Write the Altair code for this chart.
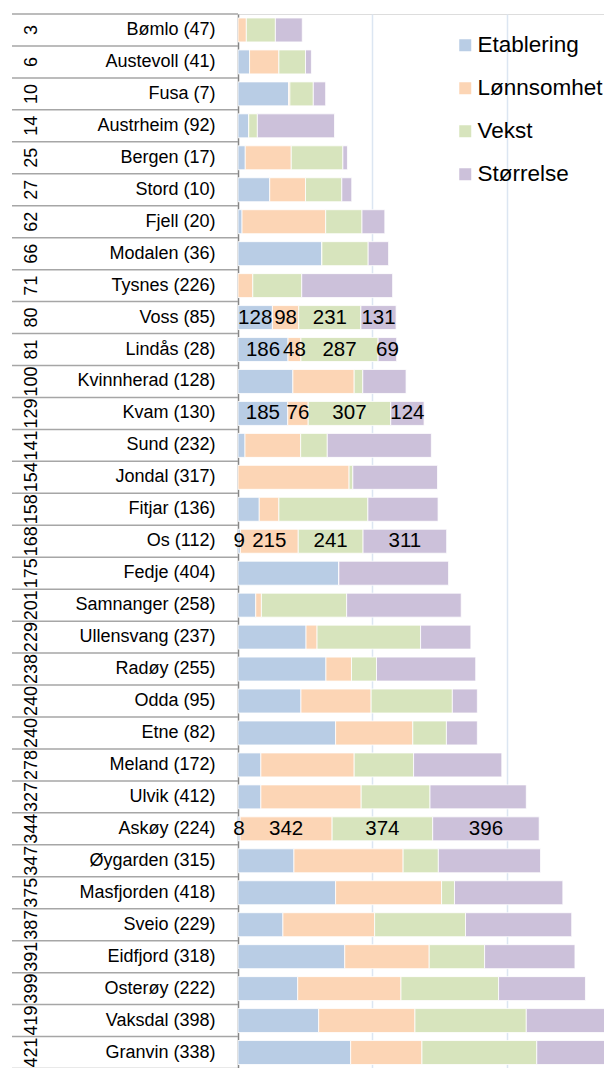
import altair as alt
import pandas as pd

names = ["Bømlo", "Austevoll", "Fusa", "Austrheim", "Bergen", "Stord", "Fjell", "Modalen",
         "Tysnes", "Voss", "Lindås", "Kvinnherad", "Kvam", "Sund", "Jondal", "Fitjar", "Os",
         "Fedje", "Samnanger", "Ullensvang", "Radøy", "Odda", "Etne", "Meland", "Ulvik",
         "Askøy", "Øygarden", "Masfjorden", "Sveio", "Eidfjord", "Osterøy", "Vaksdal", "Granvin"]
paren = [47, 41, 7, 92, 17, 10, 20, 36, 226, 85, 28, 128, 130, 232, 317, 136, 112,
         404, 258, 237, 255, 95, 82, 172, 412, 224, 315, 418, 229, 318, 222, 398, 338]
ranks = [3, 6, 10, 14, 25, 27, 62, 66, 71, 80, 81, 100, 129, 141, 154, 158, 168,
         175, 201, 229, 238, 240, 240, 278, 327, 344, 347, 375, 387, 391, 399, 419, 421]

series = ["Etablering", "Lønnsomhet", "Vekst", "Størrelse"]
colors = ["#b9cde5", "#fcd5b5", "#d7e4bd", "#ccc1da"]

etablering = [0, 43, 188, 40, 27, 118, 15, 312, 0, 128, 186, 204, 185, 26, 0, 79, 9,
              375, 66, 253, 327, 234, 363, 85, 85, 8, 208, 363, 167, 397, 222, 300, 419]
lonnsomhet = [31, 109, 5, 0, 171, 133, 311, 0, 55, 98, 48, 228, 76, 207, 413, 73, 215,
              0, 21, 41, 95, 261, 287, 347, 373, 342, 406, 394, 341, 314, 384, 358, 265]
vekst = [108, 99, 87, 32, 192, 135, 135, 172, 182, 231, 287, 32, 307, 99, 14, 331, 241,
         0, 317, 385, 93, 302, 125, 221, 256, 374, 131, 48, 338, 206, 363, 414, 427]
storrelse = [100, 22, 46, 287, 17, 37, 85, 76, 338, 131, 69, 161, 124, 387, 315, 261, 311,
             408, 426, 187, 369, 93, 115, 328, 358, 396, 380, 403, 395, 336, 323, 330, 300]

labeled = ["Voss", "Lindås", "Kvam", "Os", "Askøy"]

# ---- build tables ----
labels = [f"{n} ({p})" for n, p in zip(names, paren)]
rows = []
for i, lab in enumerate(labels):
    start = 0
    for k, (s, vals) in enumerate(zip(series, [etablering, lonnsomhet, vekst, storrelse])):
        v = vals[i]
        rows.append({
            "label": lab, "series": s, "order": k, "value": v,
            "start": start, "end": start + v, "mid": start + v / 2,
            "show": names[i] in labeled and v > 0,
            "txt": str(v),
        })
        start += v
df = pd.DataFrame(rows)
rank_df = pd.DataFrame({"label": labels, "rank": [str(r) for r in ranks]})
sep_df = pd.DataFrame({"sep": list(range(len(labels) + 1))})

W, H = 366, 1054
YRANGE = 1054.5
XMAX = 1361

yscale = alt.Scale(domain=labels, range=[0, YRANGE], paddingInner=0.25, paddingOuter=0.125)
xscale = alt.Scale(domain=[0, XMAX], nice=False, zero=True)

base = alt.Chart(df)

bars = base.mark_bar(clip=True, stroke="white", strokeWidth=0.8).encode(
    y=alt.Y("label:N", scale=yscale, sort=labels, title=None,
            axis=alt.Axis(labelFontSize=18, labelColor="#000000", labelPadding=23,
                          ticks=False, domain=True, domainColor="#868686",
                          domainWidth=1.5, labelLimit=300, labelFont="Liberation Sans")),
    x=alt.X("start:Q", scale=xscale, title=None,
            axis=alt.Axis(values=[500, 1000], grid=True, gridColor="#dce6f2", gridWidth=1.5,
                          labels=False, ticks=False, domain=False, orient="top")),
    x2="end:Q",
    color=alt.Color("series:N", scale=alt.Scale(domain=series, range=colors),
                    legend=alt.Legend(title=None, orient="none", legendX=216, legendY=20,
                                      symbolType="square", symbolSize=144,
                                      symbolStrokeWidth=0, labelFontSize=22.5,
                                      labelFont="Liberation Sans", labelColor="#000000",
                                      rowPadding=20, labelOffset=1)),
    order=alt.Order("order:Q"),
)

texts = base.transform_filter("datum.show").mark_text(
    fontSize=20.5, font="Liberation Sans", color="#000000", align="center", baseline="middle"
).encode(
    y=alt.Y("label:N", scale=yscale, sort=labels),
    x=alt.X("mid:Q", scale=xscale),
    text="txt:N",
)

rank_text = alt.Chart(rank_df).mark_text(
    fontSize=18, font="Liberation Sans", color="#000000", angle=270,
    align="center", baseline="middle"
).encode(
    y=alt.Y("label:N", scale=yscale, sort=labels),
    x=alt.value(-206),
    text="rank:N",
)

seps = alt.Chart(sep_df).mark_rule(color="#a6a6a6", strokeWidth=1.5).encode(
    y=alt.Y("sep:Q", scale=alt.Scale(domain=[0, len(labels)], range=[0, YRANGE],
                                     nice=False, zero=False), axis=None),
    x=alt.value(-226),
    x2=alt.value(0),
)

main = alt.layer(bars, texts, rank_text)
chart = alt.layer(main, seps).resolve_scale(y="independent").properties(
    width=W, height=H,
    padding={"left": 230, "top": 6, "right": 0, "bottom": 0},
    autosize=alt.AutoSizeParams(type="none"),
).configure_view(stroke=None).configure(font="Liberation Sans")

chart.save("out.html", embed_options={"renderer": "svg", "actions": False})
